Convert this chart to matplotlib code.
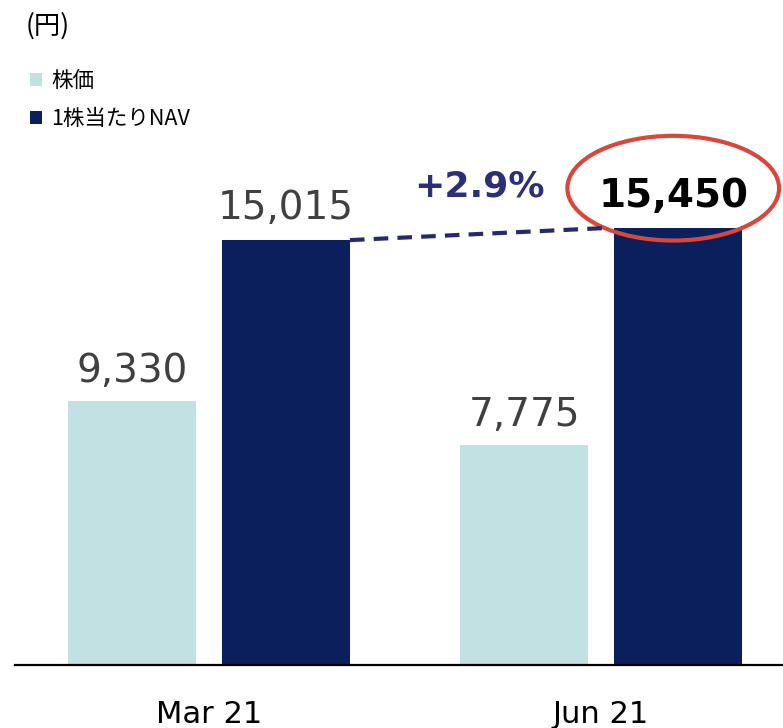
import matplotlib.pyplot as plt
from matplotlib.patches import Ellipse
import numpy as np

plt.rcParams['font.family'] = ['Noto Sans CJK JP', 'DejaVu Sans']

# data
periods = ['Mar 21', 'Jun 21']
share_price = [9330, 7775]
nav_per_share = [15015, 15450]
series_names = ['株価', '1株当たりNAV']
change_label = '+2.9%'

light = '#c2e1e2'
dark = '#0b1f5c'

W, H = 783, 728
fig = plt.figure(figsize=(W / 100, H / 100), dpi=100)
ax = fig.add_axes([15 / W, 63 / H, 1 - 15 / W, 665 / H])

x = np.arange(len(periods))
bw = 0.327
off = 0.196
b1 = ax.bar(x - off, share_price, bw, color=light, label=series_names[0])
b2 = ax.bar(x + off, nav_per_share, bw, color=dark, label=series_names[1])

ax.set_xlim(-0.495, 1.464)
ax.set_ylim(0, 23500)

# value labels
for i in range(len(periods)):
    ax.annotate(f'{share_price[i]:,}', (x[i] - off, share_price[i]),
                xytext=(0, 14), textcoords='offset points', ha='center',
                va='baseline', fontsize=28, color='#404040', family='DejaVu Sans')
    last = i == len(periods) - 1
    ax.annotate(f'{nav_per_share[i]:,}', (x[i] + off, nav_per_share[i]),
                xytext=(-3 if last else 0, 15), textcoords='offset points', ha='center',
                va='baseline', fontsize=28, color='black' if last else '#404040',
                fontweight='bold' if last else 'normal', family='DejaVu Sans')

# dashed growth line
ax.plot([x[0] + off + bw / 2, x[1] + off - bw / 2 - 0.01], nav_per_share,
        color='#26296b', lw=3, ls=(0, (3.5, 2.2)), solid_capstyle='butt')
ax.text(0.69, 16550, change_label, ha='center', va='baseline', fontsize=26,
        fontweight='bold', color='#2b2f7a', family='DejaVu Sans')

# red highlight ellipse
ax.add_patch(Ellipse((1.184, 16850), 0.54, 3700, fill=False,
                     edgecolor='#d9473b', lw=3, clip_on=False))

for s in ['top', 'right', 'left']:
    ax.spines[s].set_visible(False)
ax.spines['bottom'].set_linewidth(1.6)
ax.set_yticks([])
ax.set_xticks(x)
ax.set_xticklabels(periods, fontsize=22, family='DejaVu Sans')
ax.tick_params(axis='x', length=0, pad=25)

fig.text(26 / W, 1 - 26 / H, '(円)', fontsize=19, va='center', ha='left')
fig.legend(handles=[b1, b2], loc='upper left', bbox_to_anchor=(19 / W, 1 - 59 / H),
           frameon=False, fontsize=15.5, handlelength=0.55, handleheight=0.55,
           handletextpad=0.45, labelspacing=0.75, borderpad=0)

fig.savefig('out.png', dpi=100)
